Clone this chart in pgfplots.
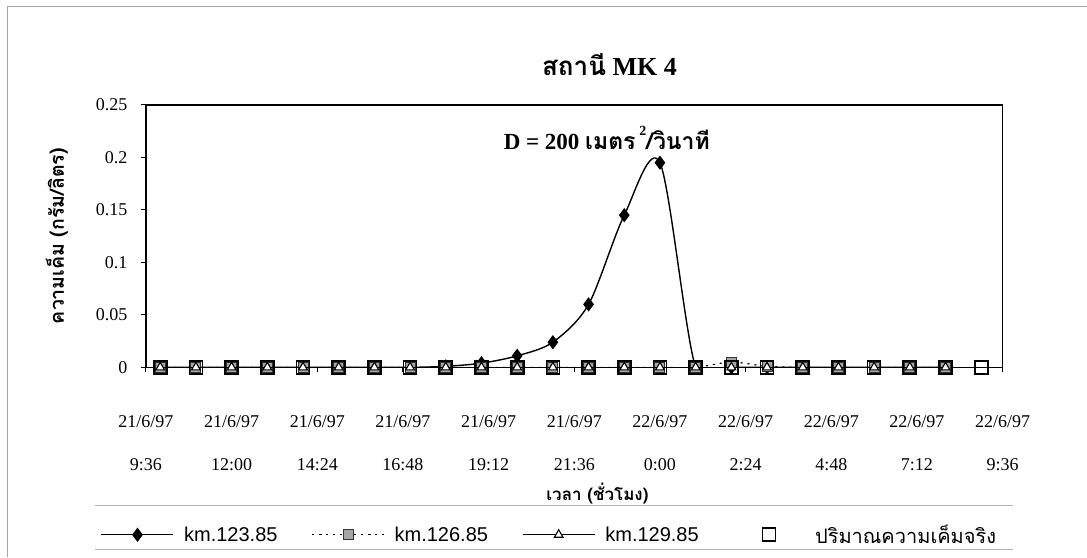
\documentclass[border=0pt]{standalone}
\usepackage{fontspec}
\setmainfont{Liberation Serif}
\newfontfamily\thaifont[Script=Thai]{Loma}
\newfontfamily\legfont{Liberation Sans}
\usepackage{pgfplots}
\pgfplotsset{compat=1.18}
\pgfplotsset{mylegimg/.style={legend image code/.code={\draw[mark repeat=2,mark phase=2,##1] plot coordinates {(0pt,0pt)(36pt,0pt)(72pt,0pt)};}}}

\begin{document}
\begin{tikzpicture}[x=1pt,y=1pt]
\fill[white] (0,0) rectangle (1087,-557);
\draw[gray!70, line width=0.8pt] (7,-557) -- (7,-6) -- (1087,-6);
\draw[gray!60, line width=0.8pt] (95,-506) -- (1013,-506);
\draw[gray!60, line width=0.8pt] (95,-550) -- (1013,-550);
\begin{axis}[
  at={(146pt,-367.5pt)}, anchor=south west,
  scale only axis, width=857pt, height=262.5pt,
  xmin=9.6, xmax=33.6, ymin=0, ymax=0.25,
  xtick={9.6,12,14.4,16.8,19.2,21.6,24,26.4,28.8,31.2,33.6},
  xticklabels={{21/6/97\\9:36},{21/6/97\\12:00},{21/6/97\\14:24},{21/6/97\\16:48},{21/6/97\\19:12},{21/6/97\\21:36},{22/6/97\\0:00},{22/6/97\\2:24},{22/6/97\\4:48},{22/6/97\\7:12},{22/6/97\\9:36}},
  ytick={0,0.05,0.1,0.15,0.2,0.25},
  yticklabels={0,0.05,0.1,0.15,0.2,0.25},
  tick align=outside, major tick length=5pt,
  xtick pos=bottom, ytick pos=left,
  tick style={black, line width=1pt},
  axis line style={line width=1.5pt},
  clip=true, clip mode=individual,
  ticklabel style={font=\fontsize{18}{43}\selectfont},
  xticklabel style={align=center, anchor=north, yshift=-40pt},
  yticklabel style={xshift=-10pt},
  title={{\thaifont\bfseries สถานี} \textbf{MK 4}},
  title style={at={(axis description cs:0.541,1.1295)}, anchor=center, font=\fontsize{26}{30}\selectfont},
  xlabel={\thaifont\bfseries เวลา (ชั่วโมง)},
  xlabel style={at={(axis description cs:0.527,-0.482)}, anchor=center, font=\fontsize{17}{20}\selectfont},
  ylabel={\thaifont\bfseries ความเค็ม (กรัม/ลิตร)},
  ylabel style={at={(axis description cs:-0.1039,0.5)}, anchor=center, font=\fontsize{19.5}{22}\selectfont},
  legend columns=4,
  legend style={at={(axis description cs:0.471,-0.638)}, anchor=center, draw=none, fill=none,
    font=\legfont\fontsize{20}{23}\selectfont,
    /tikz/every even column/.append style={column sep=32pt},
    /tikz/every odd column/.append style={column sep=8pt}},
  mylegimg,
]
\addplot[black, line width=1.4pt, smooth, tension=0.5, mark=diamond*, mark size=6pt, mark options={solid, fill=black}] coordinates {
(10,0)(11,0)(12,0)(13,0)(14,0)(15,0)(16,0)(17,0)(18,0.001)(19,0.004)(20,0.011)(21,0.024)(22,0.060)(23,0.145)(24,0.195)(25,0)(26,0)(27,0)(28,0)(29,0)(30,0)(31,0)(32,0)};
\addlegendentry{km.123.85}
\addplot[black, line width=1.2pt, dash pattern=on 2pt off 5pt, smooth, tension=0.5, mark=square*, mark size=5pt, mark options={solid, fill=gray!70, draw=black!80, line width=1pt}] coordinates {
(10,0)(11,0)(12,0)(13,0)(14,0)(15,0)(16,0)(17,0)(18,0)(19,0)(20,0)(21,0)(22,0)(23,0)(24,0)(25,0)(26,0.005)(27,0.001)(28,0)(29,0)(30,0)(31,0)(32,0)};
\addlegendentry{km.126.85}
\addplot[black, line width=1.4pt, smooth, tension=0.5, mark=triangle*, mark size=5pt, mark options={solid, fill=white, draw=black, line width=1.1pt}] coordinates {
(10,0)(11,0)(12,0)(13,0)(14,0)(15,0)(16,0)(17,0)(18,0)(19,0)(20,0)(21,0)(22,0)(23,0)(24,0)(25,0)(26,0)(27,0)(28,0)(29,0)(30,0)(31,0)(32,0)};
\addlegendentry{km.129.85}
\addplot[white, draw opacity=0, mark=square, mark size=6.5pt, mark options={draw=black, draw opacity=1, line width=1.7pt}] coordinates {
(10,0)(11,0)(12,0)(13,0)(14,0)(15,0)(16,0)(17,0)(18,0)(19,0)(20,0)(21,0)(22,0)(23,0)(24,0)(25,0)(26,0)(27,0)(28,0)(29,0)(30,0)(31,0)(32,0)(33,0)};
\addlegendentry{{\thaifont ปริมาณความเค็มจริง}}
\node[font=\fontsize{23}{26}\selectfont\bfseries] at (axis cs:22.51,0.2186) {D = 200 {\thaifont เมตร}\,\raisebox{14pt}{\fontsize{14}{14}\selectfont 2}{\thaifont /วินาที}};
\end{axis}
\end{tikzpicture}
\end{document}
